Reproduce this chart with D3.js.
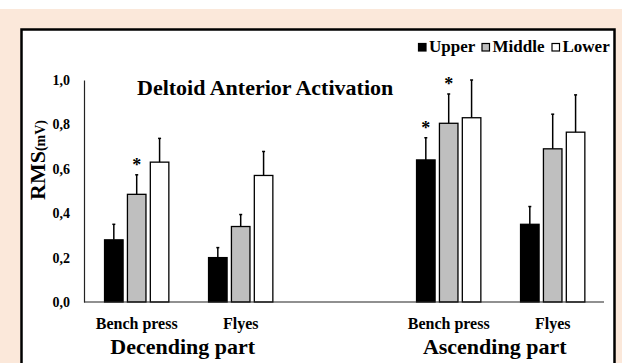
<!DOCTYPE html>
<html>
  <head>
    <meta charset="utf-8">
    <title>Deltoid Anterior Activation</title>
    <style>
      body { margin: 0; background: #fff; }
      text { font-family: "Liberation Serif", "Times New Roman", serif; font-weight: bold; fill: #000; }
    </style>
  </head>
  <body>
    <div id="vis"></div>
    <script src="https://d3js.org/d3.v7.min.js"></script>
    <script>
    // chart values (the empty slot is the gap between the two parts)
    let categories = ["Bench press D", "Flyes D", "gap", "Bench press A", "Flyes A"];
    let categoryLabels = ["Bench press", "Flyes", "", "Bench press", "Flyes"];
    let series = ["Upper", "Middle", "Lower"];
    let seriesColors = ["#000000", "#bfbfbf", "#ffffff"];

    let upperMean  = [0.28, 0.20, null, 0.64, 0.35];
    let upperSD    = [0.07, 0.045, null, 0.10, 0.08];
    let middleMean = [0.485, 0.34, null, 0.805, 0.69];
    let middleSD   = [0.088, 0.054, null, 0.132, 0.156];
    let lowerMean  = [0.63, 0.57, null, 0.83, 0.765];
    let lowerSD    = [0.107, 0.108, null, 0.17, 0.168];

    // significance stars (1 = star above the error bar)
    let upperSig  = [0, 0, 0, 1, 0];
    let middleSig = [1, 0, 0, 1, 0];
    let lowerSig  = [0, 0, 0, 0, 0];

    let phaseLabels = ["Decending part", "Ascending part"];
    let phaseCategories = [["Bench press D", "Flyes D"], ["Bench press A", "Flyes A"]];
    let yTicks = [0, 0.2, 0.4, 0.6, 0.8, 1.0];

    let w = 622, h = 363;
    let svg = d3.select("#vis").append("svg")
                .attr("width", w)
                .attr("height", h);

    // page background + framed white box
    svg.append("rect").attr("x", 0).attr("y", 9).attr("width", w).attr("height", h - 9)
       .style("fill", "#fbe8da");
    svg.append("rect").attr("x", 21.5).attr("y", 29.5).attr("width", 593).attr("height", 360)
       .style("fill", "#fff").style("stroke", "#000").style("stroke-width", 2.5);

    let x = d3.scaleBand().domain(categories).range([84.7, 604.7]);
    let xs = d3.scaleBand().domain(series).range([-32.15, 32.15]).paddingInner(0.19);
    let y = d3.scaleLinear().domain([0, 1]).range([302, 80]);

    let means = [upperMean, middleMean, lowerMean];
    let sds = [upperSD, middleSD, lowerSD];
    let sigs = [upperSig, middleSig, lowerSig];

    let bars = [];
    series.forEach(function(s, si) {
      categories.forEach(function(c, ci) {
        if (means[si][ci] == null) return;
        bars.push({cat: c, series: s, si: si, mean: means[si][ci], sd: sds[si][ci], sig: sigs[si][ci]});
      });
    });
    let cx = function(d) { return x(d.cat) + x.bandwidth() / 2 + xs(d.series); };

    // axes
    let fmt = d3.formatLocale({decimal: ",", thousands: ".", grouping: [3], currency: ["", ""]}).format(".1f");
    let yAxis = svg.append("g").attr("transform", "translate(84,0)")
                   .call(d3.axisLeft(y).tickValues(yTicks).tickSize(0).tickPadding(14).tickFormat(fmt));
    yAxis.select(".domain").style("stroke", "#222").style("stroke-width", 1.2);
    yAxis.selectAll("text").style("font-size", "14px").style("font-family", null);

    // bars
    svg.selectAll("rect.bar").data(bars).enter().append("rect")
       .attr("class", "bar")
       .attr("x", cx)
       .attr("width", xs.bandwidth())
       .attr("y", function(d) { return y(d.mean); })
       .attr("height", function(d) { return y(0) - y(d.mean); })
       .style("fill", function(d) { return seriesColors[d.si]; })
       .style("stroke", "#000").style("stroke-width", 1.3);

    // error bars (upper whisker only)
    svg.selectAll("line.err").data(bars).enter().append("line")
       .attr("class", "err")
       .attr("x1", function(d) { return cx(d) + xs.bandwidth() / 2; })
       .attr("x2", function(d) { return cx(d) + xs.bandwidth() / 2; })
       .attr("y1", function(d) { return y(d.mean); })
       .attr("y2", function(d) { return y(d.mean + d.sd); })
       .style("stroke", "#000").style("stroke-width", 1.5);
    svg.selectAll("line.cap").data(bars).enter().append("line")
       .attr("class", "cap")
       .attr("x1", function(d) { return cx(d) + xs.bandwidth() / 2 - 1.5; })
       .attr("x2", function(d) { return cx(d) + xs.bandwidth() / 2 + 1.5; })
       .attr("y1", function(d) { return y(d.mean + d.sd); })
       .attr("y2", function(d) { return y(d.mean + d.sd); })
       .style("stroke", "#000").style("stroke-width", 1.5);

    // stars
    svg.selectAll("text.star").data(bars.filter(function(d) { return d.sig; })).enter().append("text")
       .attr("class", "star")
       .attr("x", function(d) { return cx(d) + xs.bandwidth() / 2; })
       .attr("y", function(d) { return y(d.mean + d.sd) - 4; })
       .attr("text-anchor", "middle")
       .style("font-size", "18px")
       .text("*");

    // x axis line
    svg.append("line").attr("x1", 84).attr("x2", 604).attr("y1", y(0)).attr("y2", y(0))
       .style("stroke", "#222").style("stroke-width", 1.2);

    // category + phase labels
    svg.selectAll("text.cat").data(categories.filter(function(c) { return c != "gap"; })).enter().append("text")
       .attr("class", "cat")
       .attr("x", function(c) { return x(c) + x.bandwidth() / 2; })
       .attr("y", 329)
       .attr("text-anchor", "middle")
       .style("font-size", "16px")
       .text(function(c) { return categoryLabels[categories.indexOf(c)]; });

    svg.selectAll("text.phase").data(phaseLabels).enter().append("text")
       .attr("class", "phase")
       .attr("x", function(p, i) {
         let a = phaseCategories[i][0], b = phaseCategories[i][1];
         return (x(a) + x(b)) / 2 + x.bandwidth() / 2 - 6;
       })
       .attr("y", 354)
       .attr("text-anchor", "middle")
       .style("font-size", "22px")
       .text(function(p) { return p; });

    // title
    svg.append("text").attr("x", 137).attr("y", 95)
       .style("font-size", "22px")
       .text("Deltoid Anterior Activation");

    // y axis title
    let yt = svg.append("text")
       .attr("transform", "translate(45,160) rotate(-90)")
       .attr("text-anchor", "middle");
    yt.append("tspan").style("font-size", "22px").text("RMS");
    yt.append("tspan").style("font-size", "14px").text("(mV)");

    // legend
    let legendX = [418, 481.5, 551.5];
    let legend = svg.selectAll("g.legend").data(series).enter().append("g")
       .attr("class", "legend")
       .attr("transform", function(d, i) { return "translate(" + legendX[i] + ",43)"; });
    legend.append("rect").attr("x", 0.5).attr("y", 0.5).attr("width", 7.5).attr("height", 7.5)
       .style("fill", function(d, i) { return seriesColors[i]; })
       .style("stroke", "#000").style("stroke-width", 1.2);
    legend.append("text").attr("x", 11).attr("y", 9)
       .style("font-size", "17px")
       .text(function(d) { return d; });
    </script>
  </body>
</html>
